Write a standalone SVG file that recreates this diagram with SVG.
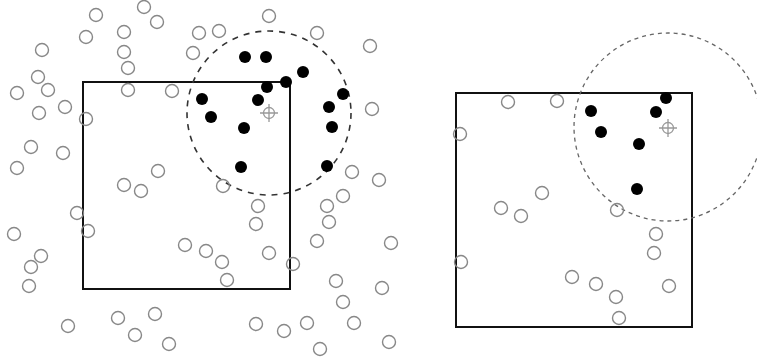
<svg xmlns="http://www.w3.org/2000/svg" width="757" height="358" viewBox="0 0 757 358">
<style>
.o{fill:none;stroke:#888;stroke-width:1.4}
.f{fill:#000}
.box{fill:none;stroke:#111;stroke-width:2}
.dl{fill:none;stroke:#333;stroke-width:1.6;stroke-dasharray:6 6}
.dr{fill:none;stroke:#666;stroke-width:1.3;stroke-dasharray:4 4}
.x{fill:none;stroke:#999;stroke-width:1.3}
</style>
<defs>
<circle id="o" r="6.5" class="o"/>
<circle id="f" r="6" class="f"/>
<g id="x" class="x"><circle r="5.5"/><path d="M-9 0H9M0 -9V9"/></g>
</defs>
<rect width="757" height="358" fill="#fff"/>
<g id="left-panel">
<rect x="83" y="82" width="207" height="207" class="box"/>
<circle cx="269" cy="113" r="82" class="dl"/>
<g id="left-open">
<use href="#o" x="96" y="15"/><use href="#o" x="144" y="7"/><use href="#o" x="157" y="22"/>
<use href="#o" x="86" y="37"/><use href="#o" x="124" y="32"/><use href="#o" x="42" y="50"/>
<use href="#o" x="124" y="52"/><use href="#o" x="128" y="68"/><use href="#o" x="38" y="77"/>
<use href="#o" x="48" y="90"/><use href="#o" x="17" y="93"/><use href="#o" x="128" y="90"/>
<use href="#o" x="172" y="91"/><use href="#o" x="65" y="107"/><use href="#o" x="39" y="113"/>
<use href="#o" x="86" y="119"/><use href="#o" x="31" y="147"/><use href="#o" x="63" y="153"/>
<use href="#o" x="17" y="168"/><use href="#o" x="158" y="171"/><use href="#o" x="124" y="185"/>
<use href="#o" x="141" y="191"/><use href="#o" x="77" y="213"/><use href="#o" x="88" y="231"/>
<use href="#o" x="14" y="234"/><use href="#o" x="41" y="256"/><use href="#o" x="31" y="267"/>
<use href="#o" x="29" y="286"/><use href="#o" x="68" y="326"/><use href="#o" x="118" y="318"/>
<use href="#o" x="155" y="314"/><use href="#o" x="135" y="335"/><use href="#o" x="169" y="344"/>
<use href="#o" x="199" y="33"/><use href="#o" x="219" y="31"/><use href="#o" x="193" y="53"/>
<use href="#o" x="269" y="16"/><use href="#o" x="317" y="33"/><use href="#o" x="370" y="46"/>
<use href="#o" x="372" y="109"/><use href="#o" x="352" y="172"/><use href="#o" x="379" y="180"/>
<use href="#o" x="223" y="186"/><use href="#o" x="258" y="206"/><use href="#o" x="256" y="224"/>
<use href="#o" x="327" y="206"/><use href="#o" x="343" y="196"/><use href="#o" x="329" y="222"/>
<use href="#o" x="317" y="241"/><use href="#o" x="185" y="245"/><use href="#o" x="206" y="251"/>
<use href="#o" x="222" y="262"/><use href="#o" x="269" y="253"/><use href="#o" x="293" y="264"/>
<use href="#o" x="227" y="280"/><use href="#o" x="336" y="281"/><use href="#o" x="382" y="288"/>
<use href="#o" x="343" y="302"/><use href="#o" x="256" y="324"/><use href="#o" x="284" y="331"/>
<use href="#o" x="307" y="323"/><use href="#o" x="354" y="323"/><use href="#o" x="320" y="349"/>
<use href="#o" x="389" y="342"/><use href="#o" x="391" y="243"/>
</g>
<g id="left-filled">
<use href="#f" x="245" y="57"/><use href="#f" x="266" y="57"/><use href="#f" x="303" y="72"/>
<use href="#f" x="286" y="82"/><use href="#f" x="267" y="87"/><use href="#f" x="202" y="99"/>
<use href="#f" x="258" y="100"/><use href="#f" x="343" y="94"/><use href="#f" x="329" y="107"/>
<use href="#f" x="211" y="117"/><use href="#f" x="332" y="127"/><use href="#f" x="244" y="128"/>
<use href="#f" x="241" y="167"/><use href="#f" x="327" y="166"/>
</g>
<use href="#x" x="269" y="113"/>
</g>
<g id="right-panel">
<rect x="456" y="93" width="236" height="234" class="box"/>
<circle cx="668" cy="127" r="94" class="dr"/>
<g id="right-open">
<use href="#o" x="508" y="102"/><use href="#o" x="557" y="101"/><use href="#o" x="460" y="134"/>
<use href="#o" x="542" y="193"/><use href="#o" x="501" y="208"/><use href="#o" x="521" y="216"/>
<use href="#o" x="617" y="210"/><use href="#o" x="656" y="234"/><use href="#o" x="654" y="253"/>
<use href="#o" x="461" y="262"/><use href="#o" x="572" y="277"/><use href="#o" x="596" y="284"/>
<use href="#o" x="616" y="297"/><use href="#o" x="619" y="318"/><use href="#o" x="669" y="286"/>
</g>
<g id="right-filled">
<use href="#f" x="666" y="98"/><use href="#f" x="591" y="111"/><use href="#f" x="656" y="112"/>
<use href="#f" x="601" y="132"/><use href="#f" x="639" y="144"/><use href="#f" x="637" y="189"/>
</g>
<use href="#x" x="668" y="128"/>
</g>
</svg>
